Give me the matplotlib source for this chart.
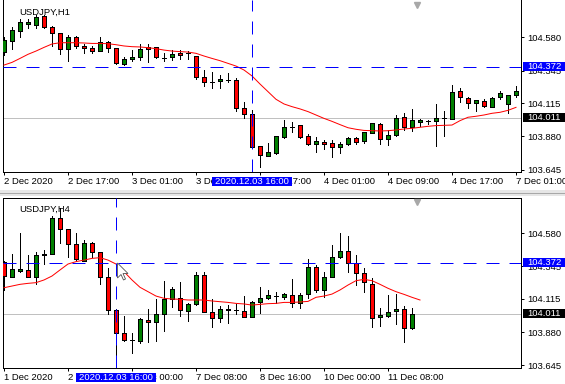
import numpy as np
import matplotlib
matplotlib.use('Agg')
import matplotlib.pyplot as plt
from matplotlib.patches import Rectangle, Polygon
from matplotlib.lines import Line2D
from matplotlib.transforms import blended_transform_factory

plt.rcParams['font.family'] = ['Liberation Sans', 'DejaVu Sans']

W, H = 565, 384

# ---- USDJPY H1 ----
h1_open = [104.479, 104.557, 104.627, 104.672, 104.670, 104.731, 104.651, 104.608, 104.495, 104.580,
           104.519, 104.502, 104.486, 104.545, 104.502, 104.389, 104.425, 104.443, 104.509, 104.509,
           104.436, 104.439, 104.472, 104.467, 104.448, 104.302, 104.267, 104.269, 104.279, 104.278,
           104.078, 104.036, 103.812, 103.744, 103.765, 103.873, 103.949, 103.958, 103.883, 103.824,
           103.843, 103.831, 103.803, 103.824, 103.871, 103.847, 103.906, 103.965, 103.859, 103.888,
           104.015, 103.949, 103.979, 103.989, 103.989, 104.008, 104.003, 104.198, 104.154, 104.114,
           104.132, 104.090, 104.156, 104.109, 104.170]
h1_high = [104.580, 104.656, 104.707, 104.710, 104.738, 104.738, 104.660, 104.610, 104.597, 104.590,
           104.531, 104.519, 104.580, 104.554, 104.507, 104.443, 104.490, 104.531, 104.531, 104.514,
           104.467, 104.490, 104.490, 104.484, 104.450, 104.349, 104.337, 104.314, 104.330, 104.290,
           104.123, 104.067, 103.814, 103.831, 103.885, 103.996, 103.979, 103.960, 103.895, 103.878,
           103.854, 103.854, 103.843, 103.878, 103.878, 103.913, 103.977, 103.972, 103.925, 104.031,
           104.043, 104.076, 104.001, 103.996, 104.107, 104.062, 104.243, 104.224, 104.156, 104.139,
           104.142, 104.161, 104.203, 104.175, 104.236]
h1_low = [104.455, 104.495, 104.580, 104.644, 104.644, 104.644, 104.519, 104.460, 104.415, 104.502,
          104.467, 104.467, 104.484, 104.479, 104.389, 104.387, 104.413, 104.420, 104.408, 104.437,
          104.413, 104.420, 104.425, 104.425, 104.286, 104.239, 104.224, 104.224, 104.262, 104.059,
          104.012, 103.803, 103.666, 103.742, 103.756, 103.871, 103.909, 103.871, 103.822, 103.772,
          103.791, 103.732, 103.765, 103.819, 103.826, 103.831, 103.902, 103.826, 103.819, 103.886,
          103.925, 103.920, 103.950, 103.965, 103.815, 103.883, 104.001, 104.125, 104.083, 104.062,
          104.090, 104.085, 104.142, 104.043, 104.161]
h1_close = [104.561, 104.632, 104.691, 104.688, 104.721, 104.651, 104.608, 104.495, 104.580, 104.519,
            104.502, 104.486, 104.545, 104.502, 104.396, 104.427, 104.439, 104.495, 104.498, 104.439,
            104.437, 104.462, 104.453, 104.466, 104.302, 104.264, 104.266, 104.286, 104.278, 104.078,
            104.036, 103.805, 103.746, 103.770, 103.883, 103.946, 103.948, 103.878, 103.824, 103.845,
            103.826, 103.803, 103.826, 103.871, 103.843, 103.909, 103.972, 103.859, 103.890, 104.008,
            103.949, 103.996, 103.996, 103.989, 104.008, 104.007, 104.196, 104.156, 104.114, 104.137,
            104.095, 104.154, 104.184, 104.173, 104.201]
h1_ma = [104.384, 104.403, 104.431, 104.460, 104.483, 104.509, 104.533, 104.542, 104.542, 104.542,
         104.540, 104.537, 104.537, 104.535, 104.528, 104.519, 104.514, 104.512, 104.507, 104.500,
         104.490, 104.483, 104.479, 104.476, 104.467, 104.448, 104.431, 104.415, 104.396, 104.377,
         104.349, 104.307, 104.250, 104.196, 104.142, 104.109, 104.090, 104.074, 104.055, 104.031,
         104.007, 103.986, 103.963, 103.941, 103.930, 103.922, 103.920, 103.918, 103.920, 103.925,
         103.932, 103.937, 103.944, 103.951, 103.956, 103.958, 103.960, 103.991, 104.015, 104.022,
         104.031, 104.043, 104.050, 104.064, 104.085]
h1_tick_idx = [0, 8, 16, 24, 32, 40, 48, 56, 64]
h1_tick_labels = ['2 Dec 2020', '2 Dec 17:00', '3 Dec 01:00', '3 Dec 09:00', '3 Dec 17:00',
                  '4 Dec 01:00', '4 Dec 09:00', '4 Dec 17:00', '7 Dec 01:00']

# ---- USDJPY H4 ----
h4_open = [104.379, 104.272, 104.315, 104.320, 104.268, 104.428, 104.431, 104.686, 104.608, 104.502,
           104.386, 104.509, 104.445, 104.268, 104.036, 103.870, 103.826, 103.818, 103.965, 103.949,
           104.005, 104.112, 104.119, 104.029, 104.076, 104.284, 104.024, 103.977, 104.038, 104.038,
           104.031, 103.989, 104.090, 104.119, 104.133, 104.126, 104.142, 104.083, 104.147, 104.339,
           104.178, 104.272, 104.409, 104.452, 104.369, 104.296, 104.218, 103.984, 103.993, 104.029,
           104.043, 103.906]
h4_high = [104.383, 104.433, 104.580, 104.426, 104.450, 104.461, 104.703, 104.757, 104.613, 104.584,
           104.532, 104.521, 104.450, 104.331, 104.041, 103.993, 103.870, 103.977, 104.043, 104.112,
           104.244, 104.197, 104.237, 104.083, 104.308, 104.308, 104.112, 104.064, 104.071, 104.079,
           104.135, 104.100, 104.197, 104.178, 104.166, 104.159, 104.253, 104.154, 104.398, 104.355,
           104.308, 104.497, 104.580, 104.561, 104.426, 104.331, 104.261, 104.053, 104.142, 104.149,
           104.064, 104.053]
h4_low = [104.178, 104.268, 104.305, 104.268, 104.220, 104.362, 104.430, 104.513, 104.414, 104.386,
          104.383, 104.414, 104.220, 104.008, 103.662, 103.818, 103.729, 103.804, 103.811, 103.818,
          103.887, 104.060, 103.993, 103.960, 104.074, 104.022, 103.913, 103.949, 103.946, 104.008,
          103.986, 103.986, 104.017, 104.112, 104.088, 104.112, 104.055, 104.048, 104.119, 104.166,
          104.131, 104.268, 104.407, 104.308, 104.211, 104.166, 103.918, 103.922, 103.989, 103.937,
          103.811, 103.899]
h4_close = [104.277, 104.324, 104.324, 104.272, 104.424, 104.433, 104.686, 104.608, 104.502, 104.395,
            104.509, 104.450, 104.268, 104.036, 103.875, 103.823, 103.823, 103.972, 103.951, 104.005,
            104.114, 104.185, 104.036, 104.076, 104.284, 104.024, 103.977, 104.043, 104.043, 104.036,
            103.989, 104.095, 104.119, 104.142, 104.138, 104.147, 104.083, 104.145, 104.339, 104.178,
            104.272, 104.409, 104.452, 104.369, 104.296, 104.232, 103.982, 104.001, 104.019, 104.043,
            103.906, 104.005]
h4_ma = [104.194, 104.206, 104.218, 104.225, 104.230, 104.249, 104.277, 104.320, 104.362, 104.379,
         104.390, 104.402, 104.407, 104.390, 104.362, 104.308, 104.249, 104.197, 104.166, 104.135,
         104.119, 104.114, 104.112, 104.107, 104.107, 104.107, 104.100, 104.095, 104.090, 104.083,
         104.079, 104.071, 104.076, 104.081, 104.083, 104.090, 104.090, 104.093, 104.097, 104.126,
         104.135, 104.149, 104.178, 104.213, 104.244, 104.253, 104.244, 104.218, 104.190, 104.166,
         104.147, 104.126, 104.107]
h4_tick_idx = [0, 8, 16, 24, 32, 40, 48]
h4_tick_labels = ['1 Dec 2020', '2 Dec 16:00', '4 Dec 00:00', '7 Dec 08:00', '8 Dec 16:00',
                  '10 Dec 00:00', '11 Dec 08:00']

price_ticks = [104.580, 104.345, 104.115, 103.880, 103.645]
cross_price = 104.372
bid_price = 104.011
cross_label = '2020.12.03 16:00'
h1_cross_idx = 31
h4_cross_idx = 14

BLUE = '#0000ff'
DASH = (0, (13, 10))
LW = 0.72  # one pixel
FS = 6.8


def fx(x):
    return x / W


def fy(y):
    return 1 - y / H


def draw_candles(ax, o, h, l, c):
    o, h, l, c = map(np.asarray, (o, h, l, c))
    x = np.arange(len(o))
    ax.vlines(x, l, h, color='black', lw=LW, zorder=3, antialiased=False)
    colors = np.where(c >= o, '#008000', '#ff0000')
    heights = np.maximum(np.abs(c - o), 0.0008)
    ax.bar(x, heights, width=0.55, bottom=np.minimum(o, c), color=colors,
           edgecolor='black', linewidth=LW, zorder=4, antialiased=False)


def setup_panel(ax, top_px, bottom_px, title, ticks, labels, cross_idx, ma, o, h, l, c, show_top):
    ax.set_xlim(-0.125, 64.625)
    draw_candles(ax, o, h, l, c)
    ax.plot(np.arange(len(ma)), ma, color='#ff0000', lw=LW, zorder=5)
    ax.axhline(bid_price, color='#c0c0c0', lw=LW, zorder=1)
    ax.axhline(cross_price, color=BLUE, lw=LW, ls=DASH, zorder=6)
    ax.axvline(cross_idx, color=BLUE, lw=LW, ls=DASH, zorder=6)

    for s in ax.spines.values():
        s.set_linewidth(LW)
    ax.spines['top'].set_visible(show_top)

    ax.yaxis.tick_right()
    ax.set_yticks(price_ticks)
    ax.set_yticklabels(['%.3f' % p for p in price_ticks])
    ax.tick_params(axis='y', length=2.2, width=LW, pad=2.5, labelsize=FS)
    ax.set_xticks(ticks)
    ax.set_xticklabels(labels, ha='left')
    ax.tick_params(axis='x', length=2.2, width=LW, pad=1.2, labelsize=FS)

    fig.text(fx(19), fy(top_px + 12), title, fontsize=FS, va='center', ha='left')

    # price labels on the right scale
    tr = blended_transform_factory(fig.transFigure, ax.transData)
    hh = 4.6 / 141.0
    for price, bg in ((cross_price, BLUE), (bid_price, 'black')):
        fig.add_artist(Rectangle((fx(523), price - hh), fx(565) - fx(523), 2 * hh,
                                 transform=tr, fc=bg, ec='none', zorder=20))
        fig.text(fx(527), price, '%.3f' % price, transform=tr, color='white',
                 fontsize=FS, va='center', ha='left', zorder=21)

    # time label of the crosshair
    tr2 = blended_transform_factory(ax.transData, fig.transFigure)
    fig.add_artist(Rectangle((cross_idx - 4.95, fy(bottom_px + 13.5)), 9.9,
                             fy(bottom_px + 5) - fy(bottom_px + 13.5),
                             transform=tr2, fc=BLUE, ec='none', zorder=20))
    fig.text(cross_idx, fy(bottom_px + 9.2), cross_label, transform=tr2, color='white',
             fontsize=FS, va='center', ha='center', zorder=21)

    # chart shift marker
    fig.add_artist(Line2D([fx(416.5)], [fy(top_px + 5)], marker='v', ms=4.5,
                          color='#a8a8a8', mec='#a8a8a8', transform=fig.transFigure, zorder=20))


fig = plt.figure(figsize=(W / 100, H / 100), dpi=100)
fig.patch.set_facecolor('white')

ax1 = fig.add_axes([fx(3), fy(172), fx(521) - fx(3), 172 / H])
ax1.set_ylim(103.628, 104.844)
setup_panel(ax1, 0, 172, 'USDJPY,H1', h1_tick_idx, h1_tick_labels, h1_cross_idx,
            h1_ma, h1_open, h1_high, h1_low, h1_close, False)

ax2 = fig.add_axes([fx(3), fy(368), fx(521) - fx(3), 170 / H])
ax2.set_ylim(103.625, 104.830)
setup_panel(ax2, 197, 368, 'USDJPY,H4', h4_tick_idx, h4_tick_labels, h4_cross_idx,
            h4_ma, h4_open, h4_high, h4_low, h4_close, True)

# window separator between the two charts
fig.add_artist(Rectangle((0, fy(196)), 1, fy(190) - fy(196), transform=fig.transFigure,
                         fc='#e6e6e6', ec='none', zorder=0))
fig.add_artist(Line2D([0, 1], [fy(193), fy(193)], color='#a8a8a8', lw=LW, transform=fig.transFigure))

# mouse cursor
cur = np.array([(0, 0), (0, 15), (3.5, 11.5), (6, 17), (8, 16), (5.5, 10.5), (10.5, 10.5)])
fig.add_artist(Polygon([(fx(117.5 + a), fy(263 + b)) for a, b in cur], closed=True,
                       transform=fig.transFigure, fc='white', ec='#505050', lw=0.6, zorder=22))

fig.savefig('out.png', dpi=100)
